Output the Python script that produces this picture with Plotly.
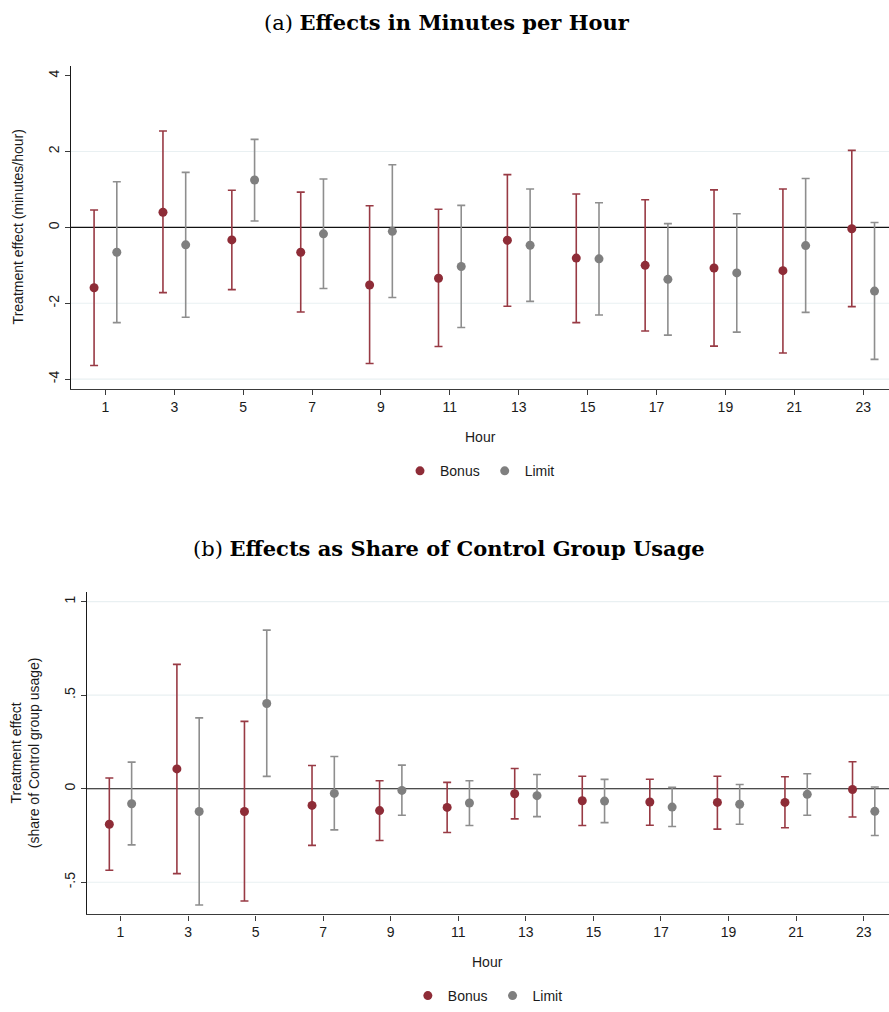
import plotly.graph_objects as go

hours = [1, 3, 5, 7, 9, 11, 13, 15, 17, 19, 21, 23]
x_tick_labels = [str(h) for h in hours]

# Panel (a): minutes per hour
a_bonus = [-1.59, 0.40, -0.33, -0.655, -1.52, -1.34, -0.34, -0.81, -1.00, -1.07, -1.14, -0.035]
a_bonus_hi = [0.46, 2.54, 0.98, 0.93, 0.57, 0.48, 1.39, 0.88, 0.73, 0.99, 1.01, 2.03]
a_bonus_lo = [-3.64, -1.72, -1.64, -2.23, -3.59, -3.14, -2.08, -2.51, -2.73, -3.13, -3.31, -2.09]
a_limit = [-0.655, -0.46, 1.25, -0.17, -0.105, -1.03, -0.47, -0.83, -1.37, -1.20, -0.48, -1.68]
a_limit_hi = [1.205, 1.45, 2.32, 1.275, 1.65, 0.58, 1.01, 0.65, 0.10, 0.36, 1.29, 0.13]
a_limit_lo = [-2.51, -2.37, 0.17, -1.61, -1.85, -2.64, -1.95, -2.31, -2.84, -2.76, -2.24, -3.48]

# Panel (b): share of control group usage
b_bonus = [-0.19, 0.106, -0.122, -0.089, -0.117, -0.10, -0.027, -0.064, -0.071, -0.073, -0.073, -0.004]
b_bonus_hi = [0.057, 0.665, 0.36, 0.124, 0.043, 0.034, 0.108, 0.067, 0.051, 0.067, 0.064, 0.144]
b_bonus_lo = [-0.436, -0.454, -0.60, -0.303, -0.277, -0.234, -0.161, -0.197, -0.195, -0.216, -0.209, -0.151]
b_limit = [-0.08, -0.122, 0.456, -0.025, -0.009, -0.076, -0.037, -0.066, -0.098, -0.083, -0.030, -0.121]
b_limit_hi = [0.142, 0.379, 0.848, 0.172, 0.126, 0.043, 0.076, 0.050, 0.007, 0.023, 0.080, 0.009]
b_limit_lo = [-0.30, -0.622, 0.066, -0.22, -0.142, -0.197, -0.149, -0.181, -0.202, -0.19, -0.142, -0.25]

a_yticks = [-4, -2, 0, 2, 4]
a_yticklabels = ["-4", "-2", "0", "2", "4"]
b_yticks = [-0.5, 0, 0.5, 1]
b_yticklabels = ["-.5", "0", ".5", "1"]

OFFSET = 0.33
BONUS_COLOR = "#8e2c37"
BONUS_BAR = "#983a44"
LIMIT_COLOR = "#7f7f7f"
LIMIT_BAR = "#8e8e8e"
SANS = "Liberation Sans, Arial, sans-serif"
SERIF = "DejaVu Serif, serif"

W, H = 889, 1012

fig = go.Figure()


def add_series(xs, ys, hi, lo, name, color, barcolor, xa, ya, legend, showlegend=True):
    fig.add_trace(go.Scatter(
        x=xs, y=ys, mode="markers", name=name,
        marker=dict(color=color, size=9, line=dict(width=0)),
        error_y=dict(type="data", symmetric=False,
                     array=[h - y for h, y in zip(hi, ys)],
                     arrayminus=[y - l for y, l in zip(ys, lo)],
                     color=barcolor, thickness=1.6, width=4),
        xaxis=xa, yaxis=ya, legend=legend, showlegend=showlegend,
        cliponaxis=False,
    ))


xb = [h - OFFSET for h in hours]
xl = [h + OFFSET for h in hours]

add_series(xb, a_bonus, a_bonus_hi, a_bonus_lo, "Bonus", BONUS_COLOR, BONUS_BAR, "x", "y", "legend")
add_series(xl, a_limit, a_limit_hi, a_limit_lo, "Limit", LIMIT_COLOR, LIMIT_BAR, "x", "y", "legend")
add_series(xb, b_bonus, b_bonus_hi, b_bonus_lo, "Bonus", BONUS_COLOR, BONUS_BAR, "x2", "y2", "legend2")
add_series(xl, b_limit, b_limit_hi, b_limit_lo, "Limit", LIMIT_COLOR, LIMIT_BAR, "x2", "y2", "legend2")

# plot area geometry (pixels)
a_left, a_top, a_bottom = 71, 66.7, 391.7
b_left, b_top, b_bottom = 86.7, 596.7, 921.7

common_x = dict(range=[0, 23.75], tickvals=hours, ticktext=x_tick_labels,
                showgrid=False, zeroline=False, showline=True, linecolor="#3a3a3a",
                linewidth=1.3, ticks="outside", ticklen=5, tickcolor="#3a3a3a",
                tickfont=dict(family=SANS, size=14, color="#1a1a1a"), fixedrange=True)
common_y = dict(showgrid=False, zeroline=False, showline=True, linecolor="#1a1a1a",
                linewidth=1.2, ticks="outside", ticklen=5, tickcolor="#3a3a3a",
                tickangle=-90, tickfont=dict(family=SANS, size=14, color="#1a1a1a"),
                fixedrange=True)

fig.update_layout(
    width=W, height=H, margin=dict(l=0, r=0, t=0, b=0),
    paper_bgcolor="white", plot_bgcolor="white",
    xaxis=dict(domain=[a_left / W, 1], anchor="y", **common_x),
    yaxis=dict(domain=[1 - a_bottom / H, 1 - a_top / H], anchor="x",
               range=[-4.25, 4.25], tickvals=a_yticks, ticktext=a_yticklabels, **common_y),
    xaxis2=dict(domain=[b_left / W, 1], anchor="y2", **common_x),
    yaxis2=dict(domain=[1 - b_bottom / H, 1 - b_top / H], anchor="x2",
                range=[-0.672, 1.052], tickvals=b_yticks, ticktext=b_yticklabels, **common_y),
    legend=dict(orientation="h", x=(a_left + W) / 2 / W, xanchor="center",
                y=1 - 475 / H, yanchor="middle", font=dict(family=SANS, size=14, color="#1a1a1a"),
                itemwidth=30, bgcolor="rgba(0,0,0,0)"),
    legend2=dict(orientation="h", x=(b_left + W) / 2 / W, xanchor="center",
                 y=1 - 1004 / H, yanchor="middle", font=dict(family=SANS, size=14, color="#1a1a1a"),
                 itemwidth=30, bgcolor="rgba(0,0,0,0)"),
    showlegend=True,
)

GRID = "#e9f0f2"
for yv in [-4, -2, 2]:
    fig.add_shape(type="line", xref="x domain", yref="y", x0=0, x1=1, y0=yv, y1=yv,
                  line=dict(color=GRID, width=1.2), layer="below")
for yv in [-0.5, 0.5, 1]:
    fig.add_shape(type="line", xref="x2 domain", yref="y2", x0=0, x1=1, y0=yv, y1=yv,
                  line=dict(color=GRID, width=1.2), layer="below")
fig.add_shape(type="line", xref="x domain", yref="y", x0=0, x1=1, y0=0, y1=0,
              line=dict(color="#111111", width=1.2), layer="below")
fig.add_shape(type="line", xref="x2 domain", yref="y2", x0=0, x1=1, y0=0, y1=0,
              line=dict(color="#111111", width=1.2), layer="below")

annots = [
    dict(text="(a) <b>Effects in Minutes per Hour</b>", x=447 / W, y=1 - 23 / H,
         font=dict(family=SERIF, size=21, color="black")),
    dict(text="(b) <b>Effects as Share of Control Group Usage</b>", x=449 / W, y=1 - 553 / H,
         font=dict(family=SERIF, size=21, color="black")),
    dict(text="Hour", x=(a_left + W) / 2 / W, y=1 - 440 / H,
         font=dict(family=SANS, size=14, color="#1a1a1a")),
    dict(text="Hour", x=(b_left + W) / 2 / W, y=1 - 970 / H,
         font=dict(family=SANS, size=14, color="#1a1a1a")),
    dict(text="Treatment effect (minutes/hour)", x=18 / W, y=1 - (a_top + a_bottom) / 2 / H,
         textangle=-90, font=dict(family=SANS, size=14, color="#1a1a1a")),
    dict(text="Treatment effect<br>(share of Control group usage)", x=25 / W,
         y=1 - (b_top + b_bottom) / 2 / H, textangle=-90,
         font=dict(family=SANS, size=14, color="#1a1a1a")),
]
for a in annots:
    fig.add_annotation(xref="paper", yref="paper", showarrow=False,
                       xanchor="center", yanchor="middle", **a)

fig.write_html("out.html", config={"displayModeBar": False},
               post_script="document.body.style.margin='0';document.body.style.overflow='hidden';")
